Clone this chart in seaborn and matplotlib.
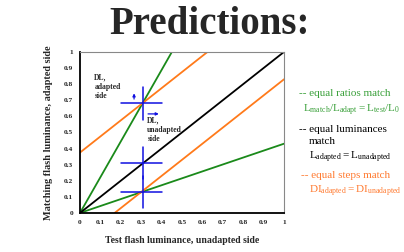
import numpy as np
import pandas as pd
import matplotlib.pyplot as plt
import seaborn as sns

# prediction lines: y = slope * x + intercept
line_names = ["ratio_steep", "ratio_shallow", "luminance", "steps_upper", "steps_lower"]
line_slopes = [2.22, 0.43, 1.0, 1.0, 1.0]
line_intercepts = [0.0, 0.0, 0.0, 0.375, -0.17]
line_colors = ["#1a8a1a", "#1a8a1a", "black", "#ff7a1a", "#ff7a1a"]

# blue crosses (centre x, centre y)
cross_x = [0.30, 0.30, 0.30]
cross_y = [0.68, 0.31, 0.13]
cross_half = 0.1

ticks = [0, 0.1, 0.2, 0.3, 0.4, 0.5, 0.6, 0.7, 0.8, 0.9, 1]
tick_labels = ["0", "0.1", "0.2", "0.3", "0.4", "0.5", "0.6", "0.7", "0.8", "0.9", "1"]


def main():
    sns.set_style("white")
    plt.rcParams["font.family"] = ["Liberation Serif", "DejaVu Serif"]
    plt.rcParams["mathtext.fontset"] = "custom"
    plt.rcParams["mathtext.rm"] = "Liberation Serif"

    fig = plt.figure(figsize=(4.04, 2.52), dpi=100)
    ax = fig.add_axes([0.198, 0.155, 0.505, 0.639])

    xs = np.linspace(0, 1, 201)
    rows = []
    for name, m, b in zip(line_names, line_slopes, line_intercepts):
        for x in xs:
            y = m * x + b
            if 0 <= y <= 1:
                rows.append({"line": name, "x": x, "y": y})
    df = pd.DataFrame(rows)
    sns.lineplot(data=df, x="x", y="y", hue="line", hue_order=line_names,
                 palette=dict(zip(line_names, line_colors)), linewidth=1.3,
                 legend=False, ax=ax, sort=False)

    # blue crosses
    for cx, cy in zip(cross_x, cross_y):
        ax.plot([cx - cross_half, cx + cross_half], [cy, cy], color="#1010e0", lw=1.1)
        ax.plot([cx + 0.01, cx + 0.01], [cy - cross_half, cy + cross_half], color="#1010e0", lw=1.1)

    # small arrows
    ax.annotate("", xy=(0.265, 0.76), xytext=(0.265, 0.69),
                arrowprops=dict(arrowstyle="-|>", color="#1010e0", lw=0.9, mutation_scale=4))
    ax.annotate("", xy=(0.4, 0.615), xytext=(0.32, 0.615),
                arrowprops=dict(arrowstyle="-|>", color="#1010e0", lw=0.9, mutation_scale=4))

    ax.text(0.07, 0.865, "DL,\nadapted\nside", fontsize=5.5, fontweight="bold",
            va="top", ha="left", linespacing=1.2)
    ax.text(0.33, 0.6, "DL,\nunadapted\nside", fontsize=5.5, fontweight="bold",
            va="top", ha="left", linespacing=1.2)

    ax.set_xlim(0, 1)
    ax.set_ylim(0, 1)
    ax.set_xticks(ticks)
    ax.set_xticklabels(tick_labels, fontsize=5.3, fontweight="bold")
    ax.set_yticks(ticks)
    ax.set_yticklabels(tick_labels, fontsize=5.3, fontweight="bold")
    ax.tick_params(direction="out", length=2, width=0.8, pad=3)
    ax.set_xlabel("Test flash luminance, unadapted side", fontsize=7,
                  fontweight="bold", labelpad=8)
    ax.set_ylabel("Matching flash luminance, adapted side", fontsize=7.4,
                  fontweight="bold", labelpad=8)
    for side in ["left", "bottom"]:
        ax.spines[side].set_color("black")
        ax.spines[side].set_linewidth(1.3)
    for side in ["top", "right"]:
        ax.spines[side].set_color("#888888")
        ax.spines[side].set_linewidth(0.8)

    fig.text(0.52, 0.975, "Predictions:", fontsize=28, fontweight="bold",
             ha="center", va="top")

    green, orange = "#3aa03a", "#ff7a30"
    fs = 8
    fig.text(0.74, 0.63, "-- equal ratios match", color=green, fontsize=fs, va="center")
    fig.text(0.75, 0.56, r"$\mathregular{L_{match}/L_{adapt} = L_{test}/L_0}$",
             color=green, fontsize=fs, va="center")
    fig.text(0.74, 0.485, "-- equal luminances", color="black", fontsize=fs, va="center")
    fig.text(0.765, 0.44, "match", color="black", fontsize=fs, va="center")
    fig.text(0.765, 0.375, r"$\mathregular{L_{adapted} = L_{unadapted}}$",
             color="black", fontsize=fs, va="center")
    fig.text(0.745, 0.305, "-- equal steps match", color=orange, fontsize=fs, va="center")
    fig.text(0.765, 0.24, r"$\mathregular{DI_{adapted} = DI_{unadapted}}$",
             color=orange, fontsize=fs, va="center")

    fig.savefig("out.png", dpi=100)
    plt.close(fig)


if __name__ == "__main__":
    main()
